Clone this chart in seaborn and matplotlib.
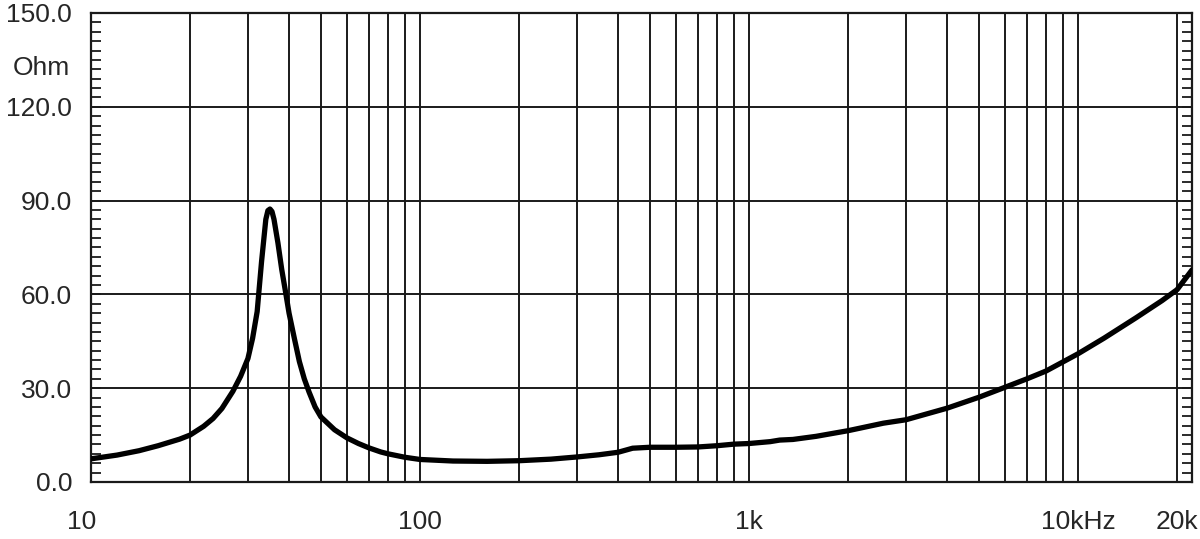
import numpy as np
import pandas as pd
import matplotlib
matplotlib.use("Agg")
import matplotlib.pyplot as plt
import seaborn as sns
from matplotlib.ticker import FixedLocator, MultipleLocator, NullFormatter
from matplotlib.transforms import blended_transform_factory, ScaledTranslation

# impedance curve (Hz, Ohm)
freq = [10, 12, 14, 16, 18.6, 20, 22, 23.5, 25, 27, 28.5, 30, 31, 32, 33, 34, 34.5,
        35, 35.5, 36, 37, 38, 39, 40, 41.5, 43, 44.5, 46, 48, 50, 55, 60, 65, 70,
        76, 80, 90, 100, 126, 160, 200, 250, 300, 350, 400, 443, 500, 600, 700,
        800, 900, 1000, 1160, 1240, 1360, 1600, 2000, 2560, 3000, 4000, 5000,
        5800, 7000, 8000, 10000, 12000, 15000, 18000, 20000, 22200]
ohm = [7.4, 8.6, 10.0, 11.6, 13.7, 15.0, 17.8, 20.3, 23.5, 29.0, 33.8, 39.5, 46.0,
       54.5, 70.5, 84.0, 86.8, 87.3, 86.5, 84.0, 76.5, 68.0, 61.0, 54.0, 46.0, 38.5,
       33.0, 28.8, 24.0, 20.8, 16.7, 14.1, 12.3, 10.9, 9.6, 9.0, 7.9, 7.2, 6.7, 6.6,
       6.8, 7.3, 8.0, 8.7, 9.5, 10.8, 11.1, 11.1, 11.2, 11.6, 12.1, 12.3, 12.9,
       13.4, 13.6, 14.6, 16.4, 18.8, 19.9, 23.6, 27.1, 29.7, 33.0, 35.5, 41.0, 46.0,
       52.5, 58.0, 61.5, 67.8]

xtick_pos = [10, 100, 1000, 10000, 20000]
xtick_lab = ["10", "100", "1k", "10kHz", "20k"]
ytick_pos = [0, 30, 60, 90, 120, 150]
ytick_lab = ["0.0", "30.0", "60.0", "90.0", "120.0", "150.0"]

df = pd.DataFrame({"freq": freq, "ohm": ohm})

sns.set_style("white")
plt.rcParams["font.family"] = ["Liberation Sans", "DejaVu Sans"]

fig = plt.figure(figsize=(12, 5.39), dpi=100)
ax = fig.add_axes([0.0758, 0.1058, 0.9175, 0.8701])

# vertical grid at 1-9 per decade up to 10k, plus 20k
vgrid = [m * 10 ** d for d in range(1, 4) for m in range(1, 10)] + [10000, 20000]
for v in vgrid[1:]:
    ax.axvline(v, color="#1a1a1a", lw=1.4, zorder=1)
for h in ytick_pos[1:-1]:
    ax.axhline(h, color="#1a1a1a", lw=1.4, zorder=1)

sns.lineplot(data=df, x="freq", y="ohm", color="black", lw=3.8, ax=ax, zorder=3)

ax.set_xscale("log")
ax.set_xlim(10, 22200)
ax.set_ylim(0, 150)

ax.xaxis.set_major_locator(FixedLocator(xtick_pos))
ax.set_xticklabels(xtick_lab, fontsize=19)
ax.xaxis.set_minor_locator(FixedLocator([]))
ax.xaxis.set_minor_formatter(NullFormatter())
ax.tick_params(axis="x", which="both", length=0, pad=20)
first = ax.get_xticklabels()[0]
first.set_transform(first.get_transform() + ScaledTranslation(-9 / 100, 0, fig.dpi_scale_trans))

ax.yaxis.set_major_locator(FixedLocator(ytick_pos))
ax.set_yticklabels(ytick_lab, fontsize=19)
ax.yaxis.set_minor_locator(MultipleLocator(3))
ax.tick_params(axis="y", which="both", direction="in", left=True, right=True,
               length=7, width=1.3, color="#1a1a1a", pad=13.5)

for s in ax.spines.values():
    s.set_color("#1a1a1a")
    s.set_linewidth(1.6)

ax.set_xlabel("")
ax.set_ylabel("")

tr = blended_transform_factory(ax.transAxes, ax.transData)
ax.text(-0.019, 132.5, "Ohm", transform=tr, ha="right", va="center", fontsize=19)

fig.savefig("out.png", dpi=100)
